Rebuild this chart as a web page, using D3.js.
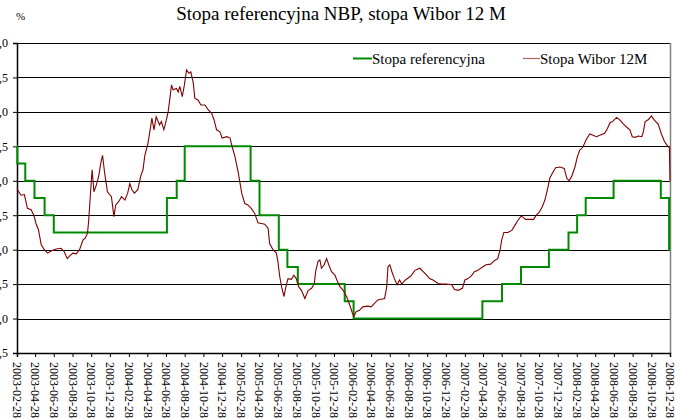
<!DOCTYPE html>
<html>
<head>
<meta charset="utf-8">
<script src="https://cdn.jsdelivr.net/npm/d3@7"></script>
<style>
	body { margin: 0; background: #fff; }
	svg { display: block; }
</style>
</head>
<body>
<svg id="chart"></svg>
<script>
// -------------- DATA --------------

let yTicks = [3.5, 4.0, 4.5, 5.0, 5.5, 6.0, 6.5, 7.0, 7.5, 8.0];

let xTickLabels = [
	"2003-02-28", "2003-04-28", "2003-06-28", "2003-08-28", "2003-10-28", "2003-12-28",
	"2004-02-28", "2004-04-28", "2004-06-28", "2004-08-28", "2004-10-28", "2004-12-28",
	"2005-02-28", "2005-04-28", "2005-06-28", "2005-08-28", "2005-10-28", "2005-12-28",
	"2006-02-28", "2006-04-28", "2006-06-28", "2006-08-28", "2006-10-28", "2006-12-28",
	"2007-02-28", "2007-04-28", "2007-06-28", "2007-08-28", "2007-10-28", "2007-12-28",
	"2008-02-28", "2008-04-28", "2008-06-28", "2008-08-28", "2008-10-28", "2008-12-28"
];

// NBP reference rate (step changes)
let refRate = [
	["2003-02-28", 6.5], ["2003-03-01", 6.25], ["2003-03-27", 6.0], ["2003-04-26", 5.75],
	["2003-05-29", 5.5], ["2003-06-28", 5.25], ["2004-07-01", 5.75], ["2004-08-02", 6.0],
	["2004-08-28", 6.5], ["2005-03-31", 6.0], ["2005-04-29", 5.5], ["2005-07-01", 5.0],
	["2005-07-29", 4.75], ["2005-09-01", 4.5], ["2006-02-01", 4.25], ["2006-03-02", 4.0],
	["2007-04-26", 4.25], ["2007-06-29", 4.5], ["2007-08-30", 4.75], ["2007-11-29", 5.0],
	["2008-02-01", 5.25], ["2008-02-29", 5.5], ["2008-03-28", 5.75], ["2008-06-27", 6.0],
	["2008-11-28", 5.75], ["2008-12-25", 5.0], ["2008-12-28", 5.0]
];

// WIBOR 12M
let wibor = [
	["2003-02-28", 5.88], ["2003-03-13", 5.79], ["2003-03-24", 5.8], ["2003-03-29", 5.7],
	["2003-04-03", 5.6], ["2003-04-15", 5.58], ["2003-04-24", 5.5], ["2003-05-01", 5.38],
	["2003-05-09", 5.29], ["2003-05-18", 5.07], ["2003-05-28", 5.0], ["2003-06-08", 4.95],
	["2003-06-19", 4.98], ["2003-07-06", 5.01], ["2003-07-22", 5.02], ["2003-08-01", 4.97],
	["2003-08-11", 4.87], ["2003-08-19", 4.91], ["2003-08-29", 4.95], ["2003-09-09", 4.94],
	["2003-09-20", 5.0], ["2003-10-01", 5.14], ["2003-10-09", 5.17], ["2003-10-16", 5.24],
	["2003-10-20", 5.43], ["2003-10-26", 5.84], ["2003-10-31", 6.16], ["2003-11-06", 5.84],
	["2003-11-14", 5.94], ["2003-11-22", 6.08], ["2003-11-28", 6.25], ["2003-12-04", 6.37],
	["2003-12-11", 6.11], ["2003-12-20", 5.84], ["2004-01-02", 5.77], ["2004-01-10", 5.48],
	["2004-01-16", 5.65], ["2004-01-26", 5.7], ["2004-02-04", 5.77], ["2004-02-15", 5.72],
	["2004-02-24", 5.82], ["2004-03-02", 5.96], ["2004-03-09", 5.87], ["2004-03-17", 5.82],
	["2004-03-28", 5.87], ["2004-04-06", 6.06], ["2004-04-14", 6.16], ["2004-04-20", 6.37],
	["2004-04-30", 6.54], ["2004-05-09", 6.79], ["2004-05-13", 6.91], ["2004-05-20", 6.74],
	["2004-05-27", 6.93], ["2004-06-07", 6.81], ["2004-06-13", 6.86], ["2004-06-21", 6.74],
	["2004-06-29", 6.88], ["2004-07-05", 7.0], ["2004-07-10", 7.17], ["2004-07-16", 7.39],
	["2004-07-21", 7.32], ["2004-08-01", 7.34], ["2004-08-07", 7.29], ["2004-08-12", 7.37],
	["2004-08-20", 7.22], ["2004-08-27", 7.39], ["2004-09-03", 7.61], ["2004-09-11", 7.56],
	["2004-09-17", 7.58], ["2004-09-25", 7.42], ["2004-09-30", 7.2], ["2004-10-11", 7.17],
	["2004-10-20", 7.1], ["2004-11-02", 7.1], ["2004-11-13", 7.03], ["2004-11-24", 6.98],
	["2004-12-02", 6.88], ["2004-12-10", 6.74], ["2004-12-21", 6.71], ["2004-12-28", 6.62],
	["2005-01-12", 6.64], ["2005-01-23", 6.62], ["2005-01-30", 6.49], ["2005-02-08", 6.35],
	["2005-02-19", 6.11], ["2005-03-02", 5.82], ["2005-03-12", 5.67], ["2005-03-22", 5.65],
	["2005-04-02", 5.6], ["2005-04-13", 5.53], ["2005-04-24", 5.39], ["2005-05-05", 5.38],
	["2005-05-16", 5.37], ["2005-05-27", 5.31], ["2005-06-01", 5.09], ["2005-06-12", 5.0],
	["2005-06-23", 4.95], ["2005-06-28", 4.83], ["2005-07-04", 4.61], ["2005-07-11", 4.44],
	["2005-07-18", 4.32], ["2005-07-24", 4.46], ["2005-07-31", 4.58], ["2005-08-11", 4.57],
	["2005-08-19", 4.63], ["2005-08-27", 4.58], ["2005-09-04", 4.46], ["2005-09-13", 4.41],
	["2005-09-24", 4.29], ["2005-10-05", 4.41], ["2005-10-16", 4.44], ["2005-10-25", 4.51],
	["2005-10-29", 4.68], ["2005-11-06", 4.83], ["2005-11-12", 4.85], ["2005-11-17", 4.73],
	["2005-11-26", 4.78], ["2005-12-04", 4.87], ["2005-12-11", 4.78], ["2005-12-20", 4.68],
	["2005-12-31", 4.63], ["2006-01-09", 4.53], ["2006-01-17", 4.46], ["2006-01-27", 4.41],
	["2006-02-07", 4.32], ["2006-02-17", 4.2], ["2006-02-26", 4.08], ["2006-03-03", 4.03],
	["2006-03-10", 4.1], ["2006-03-21", 4.12], ["2006-04-01", 4.17], ["2006-04-17", 4.18],
	["2006-04-28", 4.17], ["2006-05-09", 4.22], ["2006-05-20", 4.27], ["2006-05-31", 4.28],
	["2006-06-11", 4.29], ["2006-06-18", 4.46], ["2006-06-22", 4.75], ["2006-06-28", 4.78],
	["2006-07-05", 4.68], ["2006-07-13", 4.58], ["2006-07-22", 4.49], ["2006-07-30", 4.56],
	["2006-08-06", 4.5], ["2006-08-18", 4.56], ["2006-08-30", 4.6], ["2006-09-07", 4.63],
	["2006-09-18", 4.7], ["2006-10-04", 4.73], ["2006-10-15", 4.68], ["2006-10-26", 4.63],
	["2006-11-05", 4.58], ["2006-11-16", 4.56], ["2006-12-02", 4.51], ["2006-12-14", 4.5],
	["2006-12-30", 4.5], ["2007-01-16", 4.49], ["2007-01-25", 4.42], ["2007-02-06", 4.41],
	["2007-02-20", 4.44], ["2007-02-28", 4.56], ["2007-03-10", 4.58], ["2007-03-21", 4.62],
	["2007-03-31", 4.68], ["2007-04-11", 4.7], ["2007-04-24", 4.74], ["2007-05-08", 4.78],
	["2007-05-23", 4.79], ["2007-06-04", 4.84], ["2007-06-15", 4.87], ["2007-06-23", 5.0],
	["2007-06-28", 5.14], ["2007-07-05", 5.25], ["2007-07-18", 5.25], ["2007-07-31", 5.28],
	["2007-08-11", 5.36], ["2007-08-19", 5.42], ["2007-08-31", 5.49], ["2007-09-14", 5.44],
	["2007-10-10", 5.44], ["2007-10-19", 5.5], ["2007-10-28", 5.54], ["2007-11-07", 5.62],
	["2007-11-16", 5.72], ["2007-11-25", 5.89], ["2007-12-02", 6.04], ["2007-12-13", 6.13],
	["2007-12-21", 6.19], ["2008-01-04", 6.2], ["2008-01-18", 6.18], ["2008-01-26", 6.04],
	["2008-02-03", 6.0], ["2008-02-11", 6.06], ["2008-02-22", 6.2], ["2008-03-01", 6.35],
	["2008-03-08", 6.44], ["2008-03-19", 6.49], ["2008-03-30", 6.6], ["2008-04-10", 6.68],
	["2008-04-21", 6.66], ["2008-05-02", 6.64], ["2008-05-13", 6.66], ["2008-05-29", 6.69],
	["2008-06-07", 6.76], ["2008-06-15", 6.84], ["2008-06-26", 6.87], ["2008-07-07", 6.92],
	["2008-07-18", 6.88], ["2008-07-28", 6.83], ["2008-08-08", 6.78], ["2008-08-19", 6.74],
	["2008-08-27", 6.64], ["2008-09-05", 6.63], ["2008-09-16", 6.65], ["2008-09-27", 6.64],
	["2008-10-02", 6.71], ["2008-10-08", 6.86], ["2008-10-19", 6.89], ["2008-10-28", 6.94],
	["2008-11-07", 6.88], ["2008-11-20", 6.82], ["2008-11-29", 6.69], ["2008-12-10", 6.57],
	["2008-12-21", 6.5], ["2008-12-26", 6.48], ["2008-12-28", 6.0]
];

// -------------- SETUP --------------

let size = { w: 682, h: 419 };
let margin = { l: 17, r: 12, t: 43, b: 66 };
let serif = "'Liberation Serif', 'Times New Roman', serif";

let svg = d3
	.select("#chart")
	.attr("width", size.w)
	.attr("height", size.h)
	.attr("font-family", serif);

let parseDate = d3.timeParse("%Y-%m-%d");
let fmt = d3.formatLocale({ decimal: ",", thousands: " ", grouping: [3], currency: ["", " zł"] }).format(".1f");

let xScale = d3
	.scaleTime()
	.domain([parseDate(xTickLabels[0]), parseDate(xTickLabels[xTickLabels.length - 1])])
	.range([margin.l, size.w - margin.r]);

let yScale = d3
	.scaleLinear()
	.domain([3.5, 8])
	.range([size.h - margin.b, margin.t]);

// -------------- GRID & FRAME --------------

svg.append("g")
	.selectAll("line")
	.data(yTicks)
	.join("line")
	.attr("x1", margin.l)
	.attr("x2", size.w - margin.r)
	.attr("y1", (d) => Math.round(yScale(d)) + 0.5)
	.attr("y2", (d) => Math.round(yScale(d)) + 0.5)
	.attr("stroke", "#000")
	.attr("stroke-width", 1);

svg.append("line")
	.attr("x1", size.w - margin.r + 0.5)
	.attr("x2", size.w - margin.r + 0.5)
	.attr("y1", margin.t)
	.attr("y2", size.h - margin.b)
	.attr("stroke", "#808080")
	.attr("stroke-width", 1.5);

// -------------- AXES --------------

let yAxis = d3.axisLeft(yScale).tickValues(yTicks).tickSize(4).tickFormat(fmt);
svg.append("g")
	.attr("transform", `translate(${margin.l}, 0)`)
	.call(yAxis)
	.attr("font-family", serif)
	.attr("font-size", 12)
	.call((g) => g.select(".domain").attr("stroke-width", 1.5))
	.call((g) => g.selectAll("text").attr("x", -9));

let xAxis = d3
	.axisBottom(xScale)
	.tickValues(xTickLabels.map(parseDate))
	.tickSize(4)
	.tickFormat(d3.timeFormat("%Y-%m-%d"));
svg.append("g")
	.attr("transform", `translate(0, ${size.h - margin.b})`)
	.call(xAxis)
	.attr("font-family", serif)
	.attr("font-size", 12)
	.call((g) => g.select(".domain").attr("stroke-width", 1.5))
	.call((g) =>
		g
			.selectAll("text")
			.attr("y", 0)
			.attr("x", 9)
			.attr("dy", "0.35em")
			.attr("transform", "rotate(90)")
			.attr("text-anchor", "start")
	);

// -------------- LINES --------------

let refLine = d3
	.line()
	.x((d) => xScale(parseDate(d[0])))
	.y((d) => yScale(d[1]))
	.curve(d3.curveStepAfter);

svg.append("path")
	.datum(refRate)
	.attr("d", refLine)
	.attr("fill", "none")
	.attr("stroke", "#008a00")
	.attr("stroke-width", 2);

let wiborLine = d3
	.line()
	.x((d) => xScale(parseDate(d[0])))
	.y((d) => yScale(d[1]));

svg.append("path")
	.datum(wibor)
	.attr("d", wiborLine)
	.attr("fill", "none")
	.attr("stroke", "#800000")
	.attr("stroke-width", 1.1);

// -------------- TITLE, UNIT, LEGEND --------------

svg.append("text")
	.attr("x", 341)
	.attr("y", 20)
	.attr("text-anchor", "middle")
	.attr("font-size", 19)
	.text("Stopa referencyjna NBP, stopa Wibor 12 M");

svg.append("text").attr("x", 16).attr("y", 20).attr("font-size", 11).text("%");

let legendItems = [
	{ label: "Stopa referencyjna", color: "#008a00", width: 2, x: 353, len: 19 },
	{ label: "Stopa Wibor 12M", color: "#b86060", width: 1.2, x: 523, len: 17 }
];

let legendG = svg
	.append("g")
	.selectAll("g")
	.data(legendItems)
	.join("g")
	.attr("transform", (d) => `translate(${d.x}, 58.5)`);

legendG
	.append("line")
	.attr("x1", 0)
	.attr("x2", (d) => d.len)
	.attr("stroke", (d) => d.color)
	.attr("stroke-width", (d) => d.width);

legendG
	.append("text")
	.attr("x", (d) => d.len)
	.attr("dy", "0.35em")
	.attr("font-size", 15)
	.text((d) => d.label);
</script>
</body>
</html>
